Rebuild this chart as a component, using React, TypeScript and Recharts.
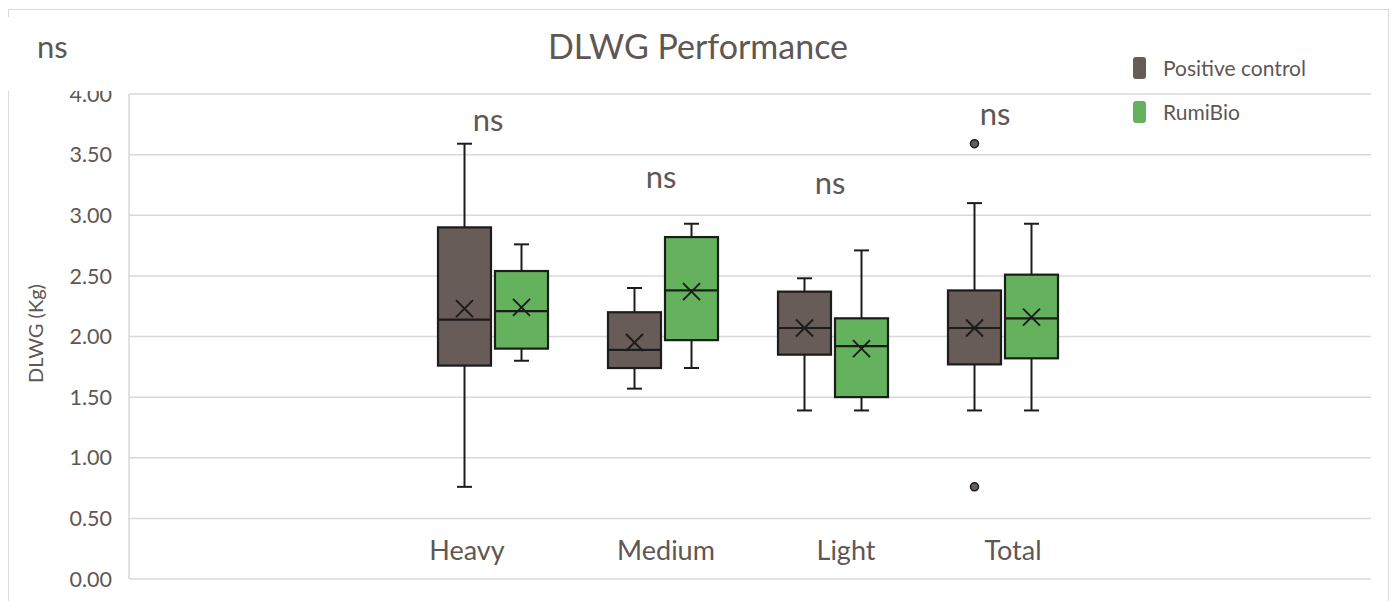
import React from 'react';
import { ComposedChart, Bar, XAxis, YAxis, CartesianGrid, ReferenceDot, Legend } from 'recharts';

const groups = ['Heavy', 'Medium', 'Light', 'Total'];
const seriesNames = ['Positive control', 'RumiBio'];

// Positive control box stats
const pcMin = [0.76, 1.57, 1.39, 1.39];
const pcQ1 = [1.76, 1.74, 1.85, 1.77];
const pcMedian = [2.14, 1.89, 2.07, 2.07];
const pcQ3 = [2.9, 2.2, 2.37, 2.38];
const pcMax = [3.59, 2.4, 2.48, 3.1];
const pcMean = [2.23, 1.95, 2.07, 2.07];
const pcOutliers = [[], [], [], [3.59, 0.76]];

// RumiBio box stats
const rbMin = [1.8, 1.74, 1.39, 1.39];
const rbQ1 = [1.9, 1.97, 1.5, 1.82];
const rbMedian = [2.21, 2.38, 1.92, 2.15];
const rbQ3 = [2.54, 2.82, 2.15, 2.51];
const rbMax = [2.76, 2.93, 2.71, 2.93];
const rbMean = [2.24, 2.37, 1.9, 2.16];
const rbOutliers = [[], [], [], []];

const nsLevel = [3.79, 3.32, 3.27, 3.84];
const yTicks = [0, 0.5, 1, 1.5, 2, 2.5, 3, 3.5, 4];

const TEXT = '#5f5753';
const GRID = '#d9d9d9';
const INK = '#1c1c1c';
const PC_FILL = '#675c57';
const RB_FILL = '#64b25d';
const FONT = 'Lato, "Open Sans", sans-serif';

// nudges for hand-placed text boxes in the original
const captionDx = [-26, 3, 13, 10];
const nsDx = [-5, -2, -3, -8];

function makeStats(i: number, min: number[], q1: number[], med: number[], q3: number[], max: number[], mean: number[], out: number[][]) {
  const s = { min: min[i], q1: q1[i], median: med[i], q3: q3[i], max: max[i], mean: mean[i], outliers: out[i] };
  const lo = Math.min(s.min, ...s.outliers);
  const hi = Math.max(s.max, ...s.outliers);
  return { s, range: [lo, hi] };
}

const data = groups.map((g, i) => {
  const pc = makeStats(i, pcMin, pcQ1, pcMedian, pcQ3, pcMax, pcMean, pcOutliers);
  const rb = makeStats(i, rbMin, rbQ1, rbMedian, rbQ3, rbMax, rbMean, rbOutliers);
  return { group: g, pc: pc.s, rb: rb.s, pcRange: pc.range, rbRange: rb.range, ns: nsLevel[i] };
});

function BoxShape(props: any) {
  const { x, y, width, height, payload, fill, statKey } = props;
  const s = payload[statKey];
  const lo = Math.min(s.min, ...s.outliers);
  const hi = Math.max(s.max, ...s.outliers);
  const top = Math.min(y, y + height);
  const h = Math.abs(height);
  // map a value inside the bar's [lo, hi] span to pixels
  const py = (v: number) => top + ((hi - v) / (hi - lo)) * h;
  const cx = x + width / 2;
  const cap = 7.5;
  const mx = py(s.mean);
  const k = 8.5;
  return (
    <g>
      <line x1={cx} x2={cx} y1={py(s.max)} y2={py(s.q3)} stroke={INK} strokeWidth={2} />
      <line x1={cx - cap} x2={cx + cap} y1={py(s.max)} y2={py(s.max)} stroke={INK} strokeWidth={2} />
      <line x1={cx} x2={cx} y1={py(s.q1)} y2={py(s.min)} stroke={INK} strokeWidth={2} />
      <line x1={cx - cap} x2={cx + cap} y1={py(s.min)} y2={py(s.min)} stroke={INK} strokeWidth={2} />
      <rect x={x} y={py(s.q3)} width={width} height={py(s.q1) - py(s.q3)} fill={fill} stroke={INK} strokeWidth={2.2} />
      <line x1={x} x2={x + width} y1={py(s.median)} y2={py(s.median)} stroke={INK} strokeWidth={2.2} />
      <line x1={cx - k} x2={cx + k} y1={mx - k} y2={mx + k} stroke={INK} strokeWidth={2} />
      <line x1={cx - k} x2={cx + k} y1={mx + k} y2={mx - k} stroke={INK} strokeWidth={2} />
      {s.outliers.map((o: number, j: number) => (
        <circle key={j} cx={cx} cy={py(o)} r={4} fill={fill} stroke={INK} strokeWidth={1.5} />
      ))}
    </g>
  );
}

function LegendBox(props: any) {
  const items = props.payload || [];
  return (
    <div>
      {items.map((it: any, i: number) => (
        <div key={i} style={{ position: 'relative', height: 44 }}>
          <div style={{ position: 'absolute', left: 0, top: 3, width: 13, height: 22, borderRadius: 3, background: it.color }} />
          <span style={{ position: 'absolute', left: 30, top: 0, fontSize: 21, lineHeight: '28px', color: TEXT, fontFamily: FONT, whiteSpace: 'nowrap' }}>
            {it.value}
          </span>
        </div>
      ))}
    </div>
  );
}

function CategoryTick(props: any) {
  const { x, y, payload, index } = props;
  return (
    <text x={x + (captionDx[index] || 0)} y={y - 19} textAnchor="middle" fill={TEXT} fontSize={27} fontFamily={FONT}>
      {payload.value}
    </text>
  );
}

function NsLabel(props: any) {
  const { viewBox, dx } = props;
  const cx = viewBox.x + (viewBox.width || 0) / 2 + dx;
  const cy = viewBox.y + (viewBox.height || 0) / 2;
  return (
    <text x={cx} y={cy} dy="0.36em" textAnchor="middle" fill={TEXT} fontSize={31} fontFamily={FONT}>
      ns
    </text>
  );
}

function YLabel(props: any) {
  const vb = props.viewBox || { x: 8, y: 94, height: 485 };
  const cx = vb.x + 30;
  const cy = vb.y + vb.height / 2 - 3;
  return (
    <text x={cx} y={cy} transform={`rotate(-90 ${cx} ${cy})`} textAnchor="middle" dominantBaseline="middle" fill={TEXT} fontSize={20} fontFamily={FONT}>
      DLWG (Kg)
    </text>
  );
}

export default function App() {
  return (
    <div style={{ position: 'absolute', left: 0, top: 0, width: 1393, height: 601, overflow: 'hidden', background: '#fff', fontFamily: FONT }}>
      <div style={{ position: 'absolute', left: 8, top: 9, width: 1379, height: 700, border: `1.5px solid ${GRID}` }} />
      <div style={{ position: 'absolute', left: 0, top: 0 }}>
        <ComposedChart width={1393} height={601} data={data} margin={{ top: 94, right: 22, bottom: 0, left: 8 }} barGap={4}>
          <CartesianGrid vertical={false} stroke={GRID} strokeWidth={1.5} />
          <XAxis
            dataKey="group"
            height={22}
            axisLine={false}
            tickLine={false}
            tickSize={0}
            tickMargin={0}
            padding={{ left: 279, right: 283 }}
            tick={(p: any) => <CategoryTick {...p} />}
            interval={0}
          />
          <YAxis
            width={121}
            domain={[0, 4]}
            ticks={yTicks}
            interval={0}
            tickFormatter={(v: number) => v.toFixed(2)}
            axisLine={{ stroke: GRID, strokeWidth: 1.5 }}
            tickLine={false}
            tickSize={0}
            tickMargin={17}
            tick={{ fill: TEXT, fontSize: 21.5, fontFamily: FONT }}
            label={<YLabel />}
          />
          <Legend
            layout="horizontal"
            verticalAlign="middle"
            align="center"
            wrapperStyle={{ position: 'absolute', left: 1133, top: 54, width: 230, height: 90 }}
            content={<LegendBox />}
          />
          <Bar
            dataKey="pcRange"
            name={seriesNames[0]}
            fill={PC_FILL}
            barSize={53}
            isAnimationActive={false}
            shape={(p: any) => <BoxShape {...p} statKey="pc" />}
          />
          <Bar
            dataKey="rbRange"
            name={seriesNames[1]}
            fill={RB_FILL}
            barSize={53}
            isAnimationActive={false}
            shape={(p: any) => <BoxShape {...p} statKey="rb" />}
          />
          {data.map((d, i) => (
            <ReferenceDot
              key={d.group}
              x={d.group}
              y={d.ns}
              r={0}
              fill="none"
              stroke="none"
              label={(p: any) => <NsLabel {...p} dx={nsDx[i]} />}
            />
          ))}
        </ComposedChart>
      </div>
      <svg width={1393} height={601} style={{ position: 'absolute', left: 0, top: 0, pointerEvents: 'none' }}>
        <rect x={0} y={17} width={125} height={74} fill="#fff" />
        <text x={37} y={58} fill={TEXT} fontSize={31} fontFamily={FONT}>ns</text>
        <text x={698} y={59} textAnchor="middle" fill={TEXT} fontSize={34} fontFamily={FONT}>DLWG Performance</text>
      </svg>
    </div>
  );
}
